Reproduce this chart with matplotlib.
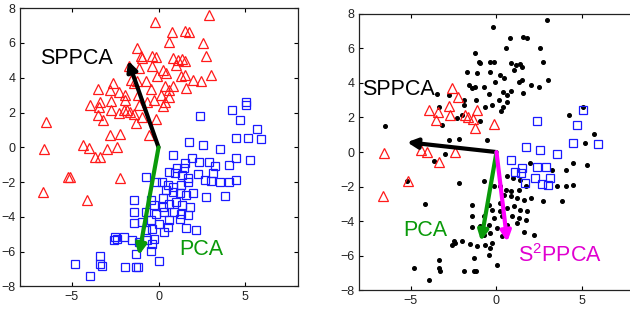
import numpy as np
import matplotlib
matplotlib.use('Agg')
import matplotlib.pyplot as plt

plt.rcParams['font.family'] = ['Liberation Sans', 'DejaVu Sans']
plt.rcParams['mathtext.fontset'] = 'custom'
plt.rcParams['mathtext.rm'] = 'Liberation Sans'
plt.rcParams['mathtext.it'] = 'Liberation Sans'

# 类别1 (红色三角) —— 有标签的点
red_lab = [(-6.57, -0.08), (-6.63, -2.55), (-5.12, -1.68), (-2.61, 3.68), (-2.25, 3.2),
           (-3.94, 2.46), (-3.43, 2.32), (-2.76, 2.65), (-2.71, 2.12), (-3.49, 1.83),
           (-1.82, 2.16), (-1.63, 2.03), (-1.14, 2.42), (-1.39, 1.93), (-1.27, 1.4),
           (-0.16, 1.6), (-4.37, 0.12), (-4.02, -0.02), (-2.41, 0.02), (-3.35, -0.57)]
# 类别1 —— 无标签的点
red_unlab = [(2.92, 7.63), (-0.19, 7.21), (0.78, 6.62), (1.52, 6.67), (1.75, 6.62),
             (0.58, 6.04), (2.53, 6.0), (-1.23, 5.73), (-1.03, 5.23), (-0.97, 5.13),
             (-0.35, 5.23), (-0.16, 5.19), (0.82, 5.13), (1.36, 5.08), (1.01, 4.75),
             (1.5, 4.94), (2.72, 5.23), (-1.71, 4.65), (-1.13, 4.56), (-0.35, 4.65),
             (0.23, 4.46), (0.43, 4.27), (3.0, 4.17), (2.47, 3.79), (1.5, 4.17),
             (-0.74, 3.79), (-1.23, 3.79), (-1.42, 3.69), (-3.46, 3.35), (-2.78, 3.31),
             (-1.91, 3.02), (-1.17, 3.02), (-0.45, 3.35), (0.14, 3.02), (0.62, 2.92),
             (0.39, 3.5), (0.82, 3.54), (1.56, 3.4), (-3.37, 2.63), (-2.3, 1.96),
             (-2.0, 2.15), (-0.93, 1.77), (-0.64, 2.63), (-0.25, 2.73), (0.27, 2.38),
             (0.39, 2.63), (-3.17, 1.58), (-6.48, 1.48), (-2.78, 0.71), (-2.2, 0.75),
             (-0.54, 0.71), (-2.98, -0.12), (-3.66, -0.54), (-5.21, -1.69), (-2.2, -1.79),
             (-4.14, -3.0), (-1.91, 2.73), (-1.61, 3.88), (-0.06, 4.08), (0.62, 3.31),
             (1.3, 4.08), (1.11, 5.04), (1.98, 3.88)]

# 类别2 (蓝色方块) —— 有标签的点
blue_lab = [(5.06, 2.42), (2.37, 1.79), (4.69, 1.56), (4.47, 0.53), (5.88, 0.47),
            (1.73, 0.31), (2.55, 0.12), (3.55, -0.12), (0.84, -0.45), (1.51, -0.9),
            (2.33, -0.86), (2.88, -0.86), (1.06, -1.17), (1.45, -1.21), (2.25, -1.52),
            (3.14, -1.48), (1.67, -1.77), (2.65, -1.87), (3.02, -1.93)]
# 类别2 —— 无标签的点
blue_unlab = [(5.06, 2.63), (4.22, 2.15), (5.68, 1.04), (5.14, 0.52), (4.44, -0.63),
              (5.25, -0.73), (1.95, -0.63), (3.25, -1.06), (4.03, -1.02), (0.62, -1.4),
              (0.97, -1.5), (1.36, -1.6), (3.54, -1.98), (4.03, -1.98), (4.47, -1.88),
              (-0.74, -1.69), (-0.16, -1.98), (0.19, -1.98), (0.53, -2.17), (0.82, -2.27),
              (1.3, -2.17), (1.69, -1.98), (0.43, -2.46), (0.82, -2.56), (1.21, -2.65),
              (1.6, -2.75), (1.98, -2.65), (2.72, -2.85), (3.83, -2.81), (0.23, -2.94),
              (-0.45, -3.04), (-0.25, -3.33), (0.23, -3.42), (0.62, -3.23), (1.01, -3.13),
              (1.36, -3.33), (1.79, -3.42), (-1.42, -3.04), (-1.42, -3.71), (-0.74, -3.71),
              (-0.16, -3.81), (0.33, -3.71), (0.91, -3.71), (1.3, -3.81), (1.69, -3.9),
              (-1.42, -4.35), (-0.93, -4.29), (-0.45, -4.19), (0.04, -4.38), (0.62, -4.19),
              (1.21, -4.1), (0.53, -4.58), (0.33, -4.87), (-0.39, -4.67), (-0.74, -4.77),
              (1.6, -4.63), (2.18, -4.77), (-2.49, -5.15), (-2.39, -5.25), (-2.59, -5.35),
              (-1.99, -5.15), (-1.52, -5.31), (-1.13, -5.44), (-0.64, -5.35), (-0.35, -5.54),
              (-0.25, -5.25), (-1.32, -6.12), (-0.45, -5.96), (-3.37, -6.27), (-3.37, -6.69),
              (-3.27, -6.85), (-4.82, -6.69), (-3.95, -7.42), (-1.91, -6.88), (-1.32, -6.88),
              (-1.17, -6.88), (0.04, -6.54)]

# 投影方向 (箭头终点)
left_sppca = (-1.75, 4.98)
left_pca = (-1.13, -6.2)
right_sppca = (-5.2, 0.57)
right_pca = (-0.9, -5.15)
right_s2ppca = (0.63, -5.19)

xticks = [-5, 0, 5]
yticks = [-8, -6, -4, -2, 0, 2, 4, 6, 8]

red_all = np.array(red_lab + red_unlab)
blue_all = np.array(blue_lab + blue_unlab)
red_lab = np.array(red_lab)
blue_lab = np.array(blue_lab)
unlab = np.array(red_unlab + blue_unlab)

RED = '#ff1a1a'
BLUE = '#1a1aff'
GREEN = '#0a9a0a'
MAGENTA = '#ff00ff'


def style_axes(ax):
    ax.set_xlim(-8, 8)
    ax.set_ylim(-8, 8)
    ax.set_xticks(xticks)
    ax.set_yticks(yticks)
    ax.tick_params(direction='in', length=3, width=0.8, top=True, right=True,
                   labelsize=9, labelcolor='#222222', pad=3)
    for s in ax.spines.values():
        s.set_linewidth(0.9)
        s.set_color('#222222')


def arrow(ax, tip, color):
    ax.annotate('', xy=tip, xytext=(0, 0),
                arrowprops=dict(arrowstyle='-|>,head_length=0.6,head_width=0.3',
                                lw=3, color=color, shrinkA=0, shrinkB=0))


fig = plt.figure(figsize=(6.3, 3.11), dpi=100)
ax1 = fig.add_axes([0.031, 0.0788, 0.4413, 0.895])
ax2 = fig.add_axes([0.5698, 0.0662, 0.4365, 0.8897])

# 左图: 全部样本按类别着色
ax1.plot(red_all[:, 0], red_all[:, 1], '^', ms=7.5, mfc='none', mec=RED, mew=0.9)
ax1.plot(blue_all[:, 0], blue_all[:, 1], 's', ms=6, mfc='none', mec=BLUE, mew=0.9)
arrow(ax1, left_sppca, 'black')
arrow(ax1, left_pca, GREEN)
ax1.text(-6.8, 5.1, 'SPPCA', fontsize=15.5, color='black', ha='left', va='center')
ax1.text(1.2, -5.85, 'PCA', fontsize=15.5, color=GREEN, ha='left', va='center')
style_axes(ax1)

# 右图: 少量有标签样本 + 无标签样本
ax2.plot(unlab[:, 0], unlab[:, 1], 'o', ms=2.6, color='black')
ax2.plot(red_lab[:, 0], red_lab[:, 1], '^', ms=7.5, mfc='none', mec=RED, mew=0.9)
ax2.plot(blue_lab[:, 0], blue_lab[:, 1], 's', ms=6, mfc='none', mec=BLUE, mew=0.9)
arrow(ax2, right_sppca, 'black')
arrow(ax2, right_pca, GREEN)
arrow(ax2, right_s2ppca, MAGENTA)
ax2.text(-7.8, 3.6, 'SPPCA', fontsize=15.5, color='black', ha='left', va='center')
ax2.text(-5.45, -4.55, 'PCA', fontsize=15.5, color=GREEN, ha='left', va='center')
ax2.text(1.25, -6.0, 'S$^{2}$PPCA', fontsize=15.5, color='#e000d0', ha='left', va='center')
style_axes(ax2)

fig.savefig('out.png', dpi=100)
